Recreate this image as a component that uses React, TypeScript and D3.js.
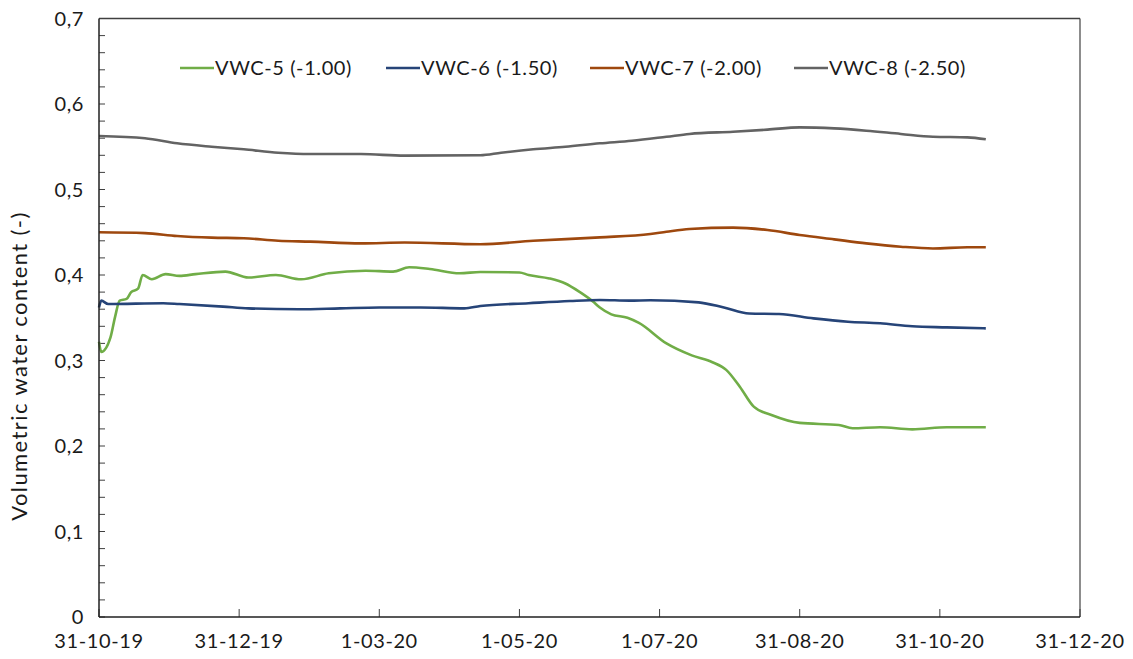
import React from "react";
import * as d3 from "d3";

// Soil moisture sensors at four depths, Oct 2019 – Nov 2020
const vwc5Dates = ["2019-10-31","2019-11-01","2019-11-05","2019-11-07","2019-11-09","2019-11-12","2019-11-14","2019-11-17","2019-11-19","2019-11-23","2019-11-29","2019-12-05","2019-12-12","2019-12-25","2020-01-04","2020-01-16","2020-01-27","2020-02-08","2020-02-24","2020-03-07","2020-03-14","2020-03-23","2020-04-05","2020-04-14","2020-05-01","2020-05-05","2020-05-14","2020-05-21","2020-05-27","2020-06-02","2020-06-05","2020-06-10","2020-06-17","2020-06-22","2020-07-04","2020-07-15","2020-07-24","2020-07-30","2020-08-05","2020-08-11","2020-08-19","2020-08-31","2020-09-17","2020-09-23","2020-10-05","2020-10-19","2020-11-03","2020-11-20"];
const vwc5Values = [0.322,0.310,0.327,0.351,0.370,0.372,0.380,0.384,0.400,0.395,0.401,0.399,0.401,0.404,0.397,0.400,0.395,0.402,0.405,0.404,0.409,0.407,0.402,0.4035,0.403,0.400,0.396,0.390,0.3805,0.369,0.362,0.354,0.350,0.344,0.320,0.306,0.298,0.289,0.269,0.246,0.236,0.227,0.2246,0.2207,0.2219,0.2195,0.222,0.222];

const vwc6Dates = ["2019-10-31","2019-11-01","2019-11-04","2019-11-28","2019-12-05","2019-12-24","2020-01-04","2020-01-26","2020-02-13","2020-03-01","2020-03-19","2020-04-07","2020-04-14","2020-05-05","2020-05-23","2020-06-05","2020-06-18","2020-06-27","2020-07-18","2020-07-29","2020-08-09","2020-08-22","2020-09-06","2020-09-21","2020-10-05","2020-10-19","2020-11-03","2020-11-20"];
const vwc6Values = [0.362,0.370,0.366,0.367,0.366,0.363,0.361,0.360,0.361,0.362,0.362,0.361,0.3637,0.367,0.3696,0.3708,0.370,0.3705,0.368,0.362,0.355,0.3544,0.3493,0.3454,0.3435,0.340,0.3388,0.3376];

const vwc7Dates = ["2019-10-31","2019-11-20","2019-12-04","2019-12-19","2020-01-02","2020-01-17","2020-01-31","2020-02-22","2020-03-12","2020-04-14","2020-05-07","2020-06-05","2020-06-27","2020-07-04","2020-07-14","2020-08-02","2020-08-17","2020-08-31","2020-09-15","2020-09-29","2020-10-14","2020-10-28","2020-11-12","2020-11-20"];
const vwc7Values = [0.450,0.449,0.4456,0.4437,0.443,0.440,0.439,0.437,0.438,0.436,0.440,0.444,0.448,0.4506,0.4538,0.4554,0.4526,0.4468,0.4417,0.437,0.4331,0.431,0.4324,0.4324];

const vwc8Dates = ["2019-10-31","2019-11-20","2019-12-04","2019-12-19","2020-01-02","2020-01-17","2020-01-31","2020-02-22","2020-03-12","2020-04-14","2020-04-23","2020-05-07","2020-05-21","2020-06-05","2020-06-19","2020-07-04","2020-07-14","2020-08-02","2020-08-17","2020-08-31","2020-09-15","2020-09-29","2020-10-14","2020-10-28","2020-11-12","2020-11-20"];
const vwc8Values = [0.5626,0.560,0.554,0.550,0.547,0.543,0.5415,0.5415,0.5396,0.540,0.543,0.547,0.550,0.554,0.557,0.5617,0.565,0.5676,0.570,0.5727,0.5715,0.5688,0.565,0.5617,0.561,0.5587];

const seriesNames = ["VWC-5 (-1.00)", "VWC-6 (-1.50)", "VWC-7 (-2.00)", "VWC-8 (-2.50)"];
const seriesColors = ["#70AD47", "#264478", "#9E480E", "#636363"];

const xTickDates = ["2019-10-31","2019-12-31","2020-03-01","2020-05-01","2020-07-01","2020-08-31","2020-10-31","2020-12-31"];
const xTickLabels = ["31-10-19","31-12-19","1-03-20","1-05-20","1-07-20","31-08-20","31-10-20","31-12-20"];
const yTicks = [0, 0.1, 0.2, 0.3, 0.4, 0.5, 0.6, 0.7];
const yTickLabels = ["0", "0,1", "0,2", "0,3", "0,4", "0,5", "0,6", "0,7"];
const yTitle = "Volumetric water content (-)";

const W = 1133;
const H = 659;
const margin = { left: 99, right: 53, top: 18.5, bottom: 42 };
const FONT = "Lato, 'Open Sans', sans-serif";
const FS = 20;
const LS = 0.6;

const parse = d3.utcParse("%Y-%m-%d");

export default function App() {
  const x = d3
    .scaleUtc()
    .domain([parse(xTickDates[0])!, parse(xTickDates[xTickDates.length - 1])!])
    .range([margin.left, W - margin.right]);
  const y = d3.scaleLinear().domain([0, 0.7]).range([H - margin.bottom, margin.top]);

  const allDates = [vwc5Dates, vwc6Dates, vwc7Dates, vwc8Dates];
  const allValues = [vwc5Values, vwc6Values, vwc7Values, vwc8Values];
  const series = allDates.map((ds, i) =>
    ds.map((d, j) => ({ date: parse(d)!, value: allValues[i][j] }))
  );

  const line = d3
    .line<{ date: Date; value: number }>()
    .x((d) => x(d.date))
    .y((d) => y(d.value))
    .curve(d3.curveMonotoneX);

  const minorTicks = d3.range(0, 0.7001, 0.02);
  const x0 = margin.left;
  const x1 = W - margin.right;
  const y0 = H - margin.bottom;
  const y1 = margin.top;

  const legendX = [180, 386, 590, 794];
  const legendY = 68;

  return (
    <svg width={W} height={H} style={{ position: "absolute", left: 0, top: 0, background: "#fff" }}>
      <rect x={0} y={0} width={W} height={H} fill="#ffffff" />
      {/* plot frame */}
      <line x1={x0} y1={y1} x2={x1} y2={y1} stroke="#404040" strokeWidth={1.5} />
      <line x1={x1} y1={y1} x2={x1} y2={y0} stroke="#404040" strokeWidth={1.2} />

      {/* minor and major y ticks, pointing inward */}
      {minorTicks.map((t, i) => (
        <line key={"yt" + i} x1={x0} x2={x0 + 6} y1={y(t)} y2={y(t)} stroke="#404040" strokeWidth={1} />
      ))}
      {/* x ticks */}
      {xTickDates.map((d, i) => (
        <line key={"xt" + i} x1={x(parse(d)!)} x2={x(parse(d)!)} y1={y0} y2={y0 - 8} stroke="#404040" strokeWidth={1} />
      ))}

      {/* series lines */}
      {series.map((s, i) => (
        <path key={"s" + i} d={line(s) || ""} fill="none" stroke={seriesColors[i]} strokeWidth={2.6} strokeLinejoin="round" />
      ))}

      {/* axes */}
      <line x1={x0} y1={y1} x2={x0} y2={y0} stroke="#202020" strokeWidth={1.5} />
      <line x1={x0} y1={y0} x2={x1} y2={y0} stroke="#202020" strokeWidth={1.5} />

      {yTicks.map((t, i) => (
        <text key={"yl" + i} x={84} y={y(t)} dy="0.35em" textAnchor="end" fontFamily={FONT} fontSize={FS} letterSpacing={LS} fill="#1a1a1a">
          {yTickLabels[i]}
        </text>
      ))}
      {xTickDates.map((d, i) => (
        <text key={"xl" + i} x={x(parse(d)!)} y={641} dy="0.35em" textAnchor="middle" fontFamily={FONT} fontSize={FS} letterSpacing={LS} fill="#1a1a1a">
          {xTickLabels[i]}
        </text>
      ))}
      <text
        transform={`translate(19, 366) rotate(-90)`}
        textAnchor="middle"
        dy="0.35em"
        fontFamily={FONT}
        fontSize={22}
        letterSpacing={1.4}
        fill="#1a1a1a"
      >
        {yTitle}
      </text>

      {/* legend */}
      {seriesNames.map((n, i) => (
        <g key={"lg" + i}>
          <line x1={legendX[i]} x2={legendX[i] + 34} y1={legendY} y2={legendY} stroke={seriesColors[i]} strokeWidth={2.6} />
          <text x={legendX[i] + 35} y={legendY} dy="0.35em" fontFamily={FONT} fontSize={FS} letterSpacing={LS} fill="#1a1a1a">
            {n}
          </text>
        </g>
      ))}
    </svg>
  );
}
